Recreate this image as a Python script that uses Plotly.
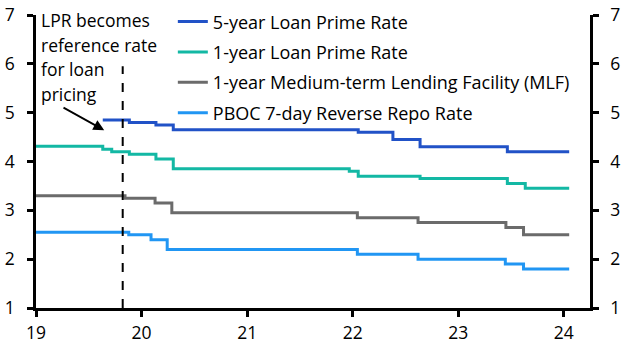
import plotly.graph_objects as go

end_date = "2024-01-20"

lpr5_dates = ["2019-08-20", "2019-11-20", "2020-02-20", "2020-04-20", "2022-01-20", "2022-05-20", "2022-08-22", "2023-06-20", end_date]
lpr5_vals = [4.85, 4.80, 4.75, 4.65, 4.60, 4.45, 4.30, 4.20, 4.20]

lpr1_dates = ["2019-01-01", "2019-08-20", "2019-09-20", "2019-11-20", "2020-02-20", "2020-04-20", "2021-12-20", "2022-01-20", "2022-08-22", "2023-06-20", "2023-08-21", end_date]
lpr1_vals = [4.31, 4.25, 4.20, 4.15, 4.05, 3.85, 3.80, 3.70, 3.65, 3.55, 3.45, 3.45]

mlf_dates = ["2019-01-01", "2019-11-05", "2020-02-17", "2020-04-15", "2022-01-17", "2022-08-15", "2023-06-15", "2023-08-15", end_date]
mlf_vals = [3.30, 3.25, 3.15, 2.95, 2.85, 2.75, 2.65, 2.50, 2.50]

rr_dates = ["2019-01-01", "2019-11-18", "2020-02-03", "2020-03-30", "2022-01-17", "2022-08-15", "2023-06-13", "2023-08-15", end_date]
rr_vals = [2.55, 2.50, 2.40, 2.20, 2.10, 2.00, 1.90, 1.80, 1.80]

series = [
    ("5-year Loan Prime Rate", lpr5_dates, lpr5_vals, "#2152c7"),
    ("1-year Loan Prime Rate", lpr1_dates, lpr1_vals, "#13b8a4"),
    ("1-year Medium-term Lending Facility (MLF)", mlf_dates, mlf_vals, "#6b6b6b"),
    ("PBOC 7-day Reverse Repo Rate", rr_dates, rr_vals, "#2196f3"),
]

tick_vals = ["2019-01-01", "2020-01-01", "2021-01-01", "2022-01-01", "2023-01-01", "2024-01-01"]
tick_text = ["19", "20", "21", "22", "23", "24"]

reform_date = "2019-10-28"
note_lines = ["LPR becomes", "reference rate", "for loan", "pricing"]

FONT = "Open Sans"
FS = 17.5

fig = go.Figure()
for i, (name, d, v, c) in enumerate(series):
    fig.add_trace(go.Scatter(x=d, y=v, name=name, mode="lines", legendgroup=f"g{i}",
                             line=dict(color=c, width=3, shape="hv")))
# invisible trace for right axis
fig.add_trace(go.Scatter(x=[tick_vals[0]], y=[1], yaxis="y2", showlegend=False,
                         mode="markers", marker=dict(opacity=0), hoverinfo="skip"))

fig.add_shape(type="line", x0=reform_date, x1=reform_date, y0=1, y1=5.95,
              xref="x", yref="y", line=dict(color="black", width=2, dash="dash"))

fig.add_annotation(x="2019-08-25", y=4.64, ax="2019-04-01", ay=5.12,
                   xref="x", yref="y", axref="x", ayref="y",
                   text="", showarrow=True, arrowhead=2, arrowsize=1.2,
                   arrowwidth=1.8, arrowcolor="black")
for k, line in enumerate(note_lines):
    fig.add_annotation(x=0.006, y=0.983 - k * 0.0845, xref="paper", yref="paper",
                       xanchor="left", yanchor="middle", text=line,
                       showarrow=False, align="left",
                       font=dict(family=FONT, size=FS, color="black"))

axis_common = dict(showgrid=False, zeroline=False, showline=True, linecolor="black",
                   linewidth=2.5, ticks="outside", tickcolor="black", tickwidth=2.5,
                   ticklen=6, tickfont=dict(family=FONT, size=FS, color="black"))

fig.update_layout(
    width=628, height=352,
    margin=dict(l=36, r=38, t=15, b=44, autoexpand=False),
    plot_bgcolor="white", paper_bgcolor="white",
    font=dict(family=FONT, size=FS, color="black"),
    xaxis=dict(type="date", range=["2019-01-01", "2024-04-01"],
               tickvals=tick_vals, ticktext=tick_text, ticklabelstandoff=1, **axis_common),
    yaxis=dict(range=[1, 7], dtick=1, tick0=1, ticklabelstandoff=9, **axis_common),
    yaxis2=dict(range=[1, 7], dtick=1, tick0=1, overlaying="y", side="right",
                ticklabelstandoff=8, **axis_common),
    legend=dict(x=0.247, y=1.04, xanchor="left", yanchor="top", bgcolor="rgba(0,0,0,0)",
                font=dict(family=FONT, size=18, color="black"), tracegroupgap=4,
                itemwidth=30),
    showlegend=True,
)

fig.write_html("out.html")
